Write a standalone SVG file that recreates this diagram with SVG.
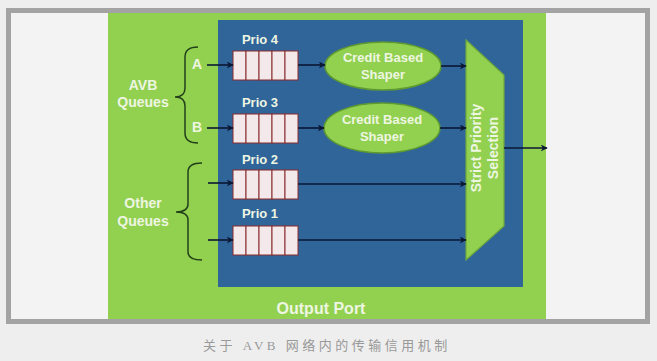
<svg xmlns="http://www.w3.org/2000/svg" width="657" height="361" viewBox="0 0 657 361">
<style>
.lbl{font-family:"Liberation Sans",Arial,sans-serif;font-weight:bold;fill:#EEF6E2;text-anchor:middle}
.cell{fill:#F3E9EB;stroke:#8A2A2A;stroke-width:1}
.con{stroke:#0B1733;stroke-width:1.6;fill:none}
.brace{stroke:#23401A;stroke-width:1.5;fill:none}
</style>
<defs>
<marker id="ah" viewBox="0 0 10 10" refX="9" refY="5" markerWidth="7" markerHeight="7" markerUnits="userSpaceOnUse" orient="auto">
<path d="M0,0 L10,5 L0,10 L3,5 Z" fill="#0B1733"/>
</marker>
<g id="queue">
<rect class="cell" x="0" y="0" width="13" height="29"/>
<rect class="cell" x="13" y="0" width="13" height="29"/>
<rect class="cell" x="26" y="0" width="13" height="29"/>
<rect class="cell" x="39" y="0" width="13" height="29"/>
<rect class="cell" x="52" y="0" width="13" height="29"/>
</g>
</defs>
<rect x="0" y="0" width="657" height="361" fill="#EEEEEE"/>
<rect x="8.5" y="10.5" width="639" height="311" fill="#F3F3F3" stroke="#A3A3A3" stroke-width="5"/>
<rect id="outputPort" x="108" y="13" width="438" height="306" fill="#92D050"/>
<rect id="switch" x="218" y="20" width="305" height="267" fill="#30659A"/>

<g id="labels-left">
<text class="lbl" x="143" y="90" font-size="14">AVB</text>
<text class="lbl" x="143" y="107" font-size="14">Queues</text>
<text class="lbl" x="143" y="208" font-size="14">Other</text>
<text class="lbl" x="143" y="226" font-size="14">Queues</text>
<text class="lbl" x="197" y="69" font-size="14">A</text>
<text class="lbl" x="197" y="132" font-size="14">B</text>
</g>

<g id="braces">
<path class="brace" d="M198,47 Q185,47 185,57 L185,88 Q185,97 175,97 Q185,97 185,106 L185,133 Q185,143 198,143"/>
<path class="brace" d="M202,163 Q188,163 188,172 L188,204 Q188,212 176,212 Q188,212 188,220 L188,252 Q188,260 202,260"/>
</g>

<g id="prio4">
<text class="lbl" x="260" y="44" font-size="13">Prio 4</text>
<use href="#queue" x="233" y="51"/>
</g>
<g id="prio3">
<text class="lbl" x="260" y="107" font-size="13">Prio 3</text>
<use href="#queue" x="233" y="114"/>
</g>
<g id="prio2">
<text class="lbl" x="260" y="164" font-size="13">Prio 2</text>
<use href="#queue" x="233" y="170"/>
</g>
<g id="prio1">
<text class="lbl" x="260" y="218" font-size="13">Prio 1</text>
<use href="#queue" x="233" y="226"/>
</g>

<g id="cbs1">
<ellipse cx="383" cy="66" rx="58" ry="24" fill="#92D050" stroke="#5E9A30" stroke-width="1.5"/>
<text class="lbl" x="383" y="62" font-size="13">Credit Based</text>
<text class="lbl" x="383" y="79" font-size="13">Shaper</text>
</g>
<g id="cbs2">
<ellipse cx="382" cy="128" rx="58" ry="25" fill="#92D050" stroke="#5E9A30" stroke-width="1.5"/>
<text class="lbl" x="382" y="124" font-size="13">Credit Based</text>
<text class="lbl" x="382" y="141" font-size="13">Shaper</text>
</g>

<g id="selector">
<polygon points="466,40 504,75 504,226 466,260" fill="#92D050" stroke="#6FA83A" stroke-width="1.2"/>
<text class="lbl" font-size="14" transform="translate(481,148) rotate(-90)">Strict  Priority</text>
<text class="lbl" font-size="14" transform="translate(498,148) rotate(-90)">Selection</text>
</g>

<g id="connectors">
<line class="con" x1="207" y1="65" x2="233" y2="65" marker-end="url(#ah)"/>
<line class="con" x1="207" y1="128" x2="233" y2="128" marker-end="url(#ah)"/>
<line class="con" x1="208" y1="183" x2="233" y2="183" marker-end="url(#ah)"/>
<line class="con" x1="208" y1="240" x2="233" y2="240" marker-end="url(#ah)"/>
<line class="con" x1="298" y1="65" x2="325" y2="65" marker-end="url(#ah)"/>
<line class="con" x1="298" y1="128" x2="324" y2="128" marker-end="url(#ah)"/>
<line class="con" x1="441" y1="66" x2="466" y2="66" marker-end="url(#ah)"/>
<line class="con" x1="440" y1="128" x2="466" y2="128" marker-end="url(#ah)"/>
<line class="con" x1="298" y1="184" x2="466" y2="184" marker-end="url(#ah)"/>
<line class="con" x1="298" y1="240" x2="466" y2="240" marker-end="url(#ah)"/>
<line class="con" x1="504" y1="148" x2="547" y2="148" marker-end="url(#ah)"/>
</g>

<text class="lbl" x="321" y="314" font-size="16">Output Port</text>

<text x="203" y="350" font-size="13" fill="#999999" letter-spacing="3.5" font-family="'Liberation Serif','Noto Sans CJK SC',serif">关于 AVB 网络内的传输信用机制</text>
</svg>
